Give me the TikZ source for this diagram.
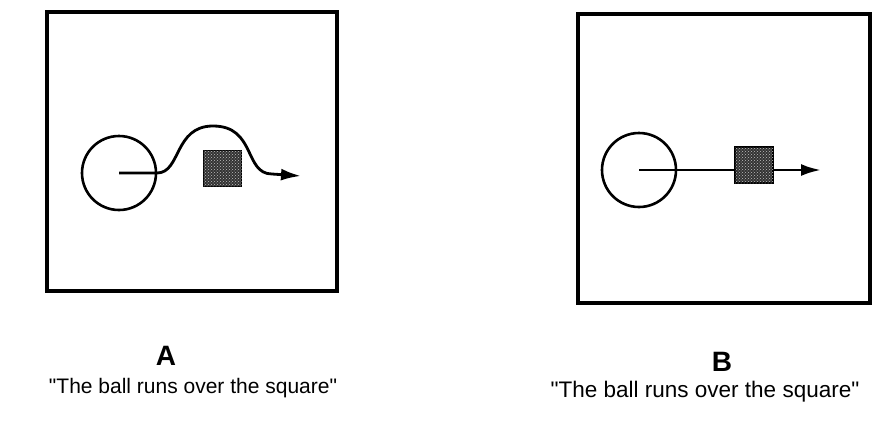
\documentclass[tikz,border=0pt]{standalone}
\usepackage{fontspec}
\setmainfont{Liberation Sans}
\usetikzlibrary{arrows.meta,patterns}
\begin{document}
\begin{tikzpicture}[x=1pt, y=-1pt,
    frame/.style={draw, line width=4pt},
    ball/.style={draw, circle, line width=2.6pt, minimum size=74pt, inner sep=0pt},
    block/.style={draw, line width=1.5pt, fill=black!80, minimum width=38pt, minimum height=36pt, inner sep=0pt,
        postaction={pattern=crosshatch dots, pattern color=white!75!black}},
    path/.style={line width=2.8pt, -{Latex[length=20pt, width=12pt]}},
    caption/.style={font=\fontsize{21}{23}\selectfont},
    letter/.style={font=\fontsize{28}{30}\selectfont\bfseries}]
    \useasboundingbox (0,0) rectangle (888,423);

    % Bild A
    \draw[frame] (47,12) rectangle (337,291);
    \node[ball] (ballA) at (119,173) {};
    \node[block] (squareA) at (222.5,168.5) {};
    \coordinate (endA) at (301,176);
    \draw[path] (ballA.center) -- (157,173) .. controls (181,173) and (174,126) .. (213,126)
        .. controls (256,126) and (244,174) .. (272,174) -- (endA);
    \node[letter] (labelA) at (166,356) {A};
    \node[caption] (textA) at (193,388) {\textquotedbl The ball runs over the square\textquotedbl};

    % Bild B
    \draw[frame] (578,14) rectangle (870,303);
    \node[ball] (ballB) at (639,170) {};
    \coordinate (endB) at (821,170);
    \draw[path] (ballB.center) -- (endB);
    \node[block] (squareB) at (754,165) {};
    \node[letter] (labelB) at (722,362) {B};
    \node[caption, font=\fontsize{22.5}{24}\selectfont] (textB) at (705,392) {\textquotedbl The ball runs over the square\textquotedbl};
\end{tikzpicture}
\end{document}
